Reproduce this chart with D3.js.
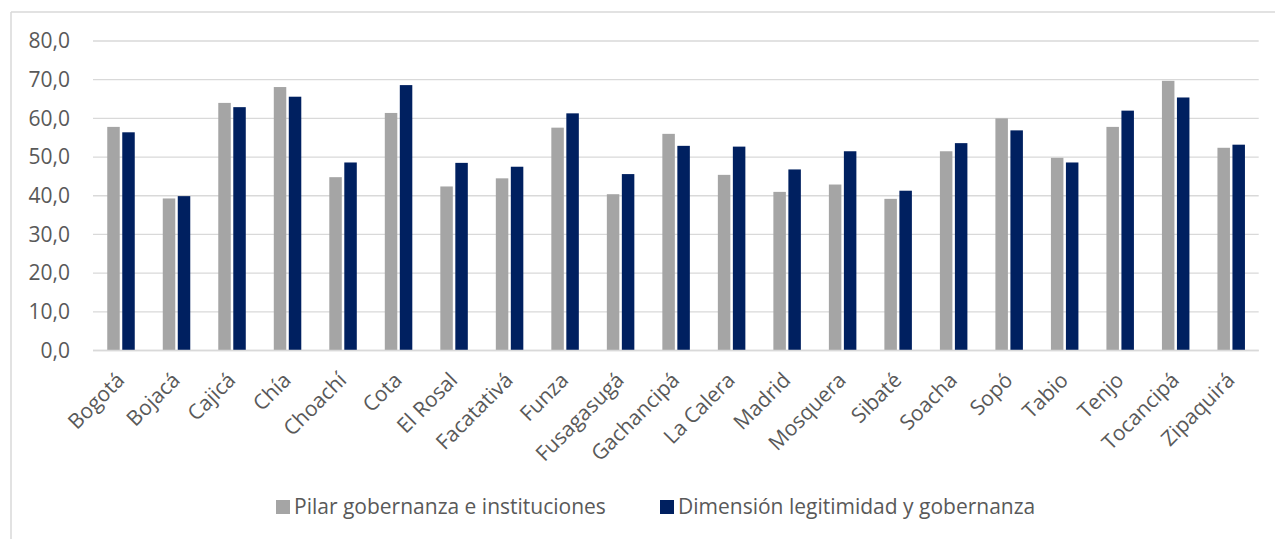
<!DOCTYPE html>
<html>
<head>
<meta charset="utf-8">
<script src="https://cdn.jsdelivr.net/npm/d3@7"></script>
<style>
  body { margin: 0; background: #fff; }
  text { font-family: "Open Sans", sans-serif; fill: #595959; }
</style>
</head>
<body>
<svg class="chart" width="1275" height="539"></svg>
<script>
// municipios
const cities = ["Bogotá", "Bojacá", "Cajicá", "Chía", "Choachí", "Cota", "El Rosal",
  "Facatativá", "Funza", "Fusagasugá", "Gachancipá", "La Calera", "Madrid", "Mosquera",
  "Sibaté", "Soacha", "Sopó", "Tabio", "Tenjo", "Tocancipá", "Zipaquirá"];

const seriesNames = ["Pilar gobernanza e instituciones", "Dimensión legitimidad y gobernanza"];

const pilar = [57.8, 39.3, 64.0, 68.1, 44.8, 61.4, 42.4, 44.5, 57.6, 40.4, 56.0,
  45.4, 41.0, 42.9, 39.2, 51.5, 60.0, 49.8, 57.8, 69.7, 52.4];
const dimension = [56.4, 39.9, 62.9, 65.6, 48.6, 68.6, 48.5, 47.5, 61.3, 45.6, 52.9,
  52.7, 46.8, 51.5, 41.3, 53.6, 56.9, 48.6, 62.0, 65.4, 53.2];

const yTicks = [0, 10, 20, 30, 40, 50, 60, 70, 80];
const colors = ["#A5A5A5", "#002060"];

var svg = d3.select(".chart");

// outer frame (only top and left edges are visible)
svg.append("line")
   .attr("x1", 11).attr("x2", 1275).attr("y1", 12).attr("y2", 12)
   .attr("stroke", "#D9D9D9").attr("stroke-width", 1.5);
svg.append("line")
   .attr("x1", 11).attr("x2", 11).attr("y1", 12).attr("y2", 539)
   .attr("stroke", "#D9D9D9").attr("stroke-width", 1.5);

let plotLeft = 93, plotRight = 1258.7, plotTop = 41, plotBottom = 350.5;

var xScale = d3.scaleBand()
               .domain(cities)
               .range([plotLeft, plotRight])
               .padding(0);

var inner = d3.scaleBand()
              .domain([0, 1])
              .range([-13.5, 14])
              .paddingInner(0.167);

var yScale = d3.scaleLinear()
               .domain([0, 80])
               .range([plotBottom, plotTop]);

// gridlines
svg.append("g")
   .selectAll("line")
   .data(yTicks)
   .join("line")
   .attr("x1", plotLeft)
   .attr("x2", plotRight)
   .attr("y1", d => yScale(d))
   .attr("y2", d => yScale(d))
   .attr("stroke", "#D9D9D9")
   .attr("stroke-width", 1.3);

// y labels
svg.append("g")
   .selectAll("text")
   .data(yTicks)
   .join("text")
   .attr("x", 70)
   .attr("y", d => yScale(d))
   .attr("dy", "0.35em")
   .attr("text-anchor", "end")
   .style("font-size", "21px")
   .text(d => d3.format(".1f")(d).replace(".", ","));

// bars
let series = [pilar, dimension];
for (let s = 0; s < series.length; s++) {
	svg.append("g")
	   .selectAll("rect")
	   .data(cities)
	   .join("rect")
	   .attr("x", (d, i) => xScale(d) + xScale.bandwidth() / 2 + inner(s))
	   .attr("width", inner.bandwidth())
	   .attr("y", (d, i) => yScale(series[s][i]))
	   .attr("height", (d, i) => yScale(0) - yScale(series[s][i]))
	   .attr("fill", colors[s]);
}

// baseline on top of bars
svg.append("line")
   .attr("x1", plotLeft).attr("x2", plotRight)
   .attr("y1", yScale(0)).attr("y2", yScale(0))
   .attr("stroke", "#D9D9D9").attr("stroke-width", 1.3);

// category labels
svg.append("g")
   .selectAll("text")
   .data(cities)
   .join("text")
   .attr("text-anchor", "end")
   .style("font-size", "21px")
   .attr("transform", d => `translate(${xScale(d) + xScale.bandwidth() / 2 + 5}, ${plotBottom + 31}) rotate(-45)`)
   .text(d => d);

// legend
let legendX = [276, 660];
for (let s = 0; s < seriesNames.length; s++) {
	svg.append("rect")
	   .attr("x", legendX[s])
	   .attr("y", 500)
	   .attr("width", 14)
	   .attr("height", 14)
	   .attr("fill", colors[s]);
	svg.append("text")
	   .attr("x", legendX[s] + 18)
	   .attr("y", 507)
	   .attr("dy", "0.35em")
	   .style("font-size", "21px")
	   .text(seriesNames[s]);
}
</script>
</body>
</html>
